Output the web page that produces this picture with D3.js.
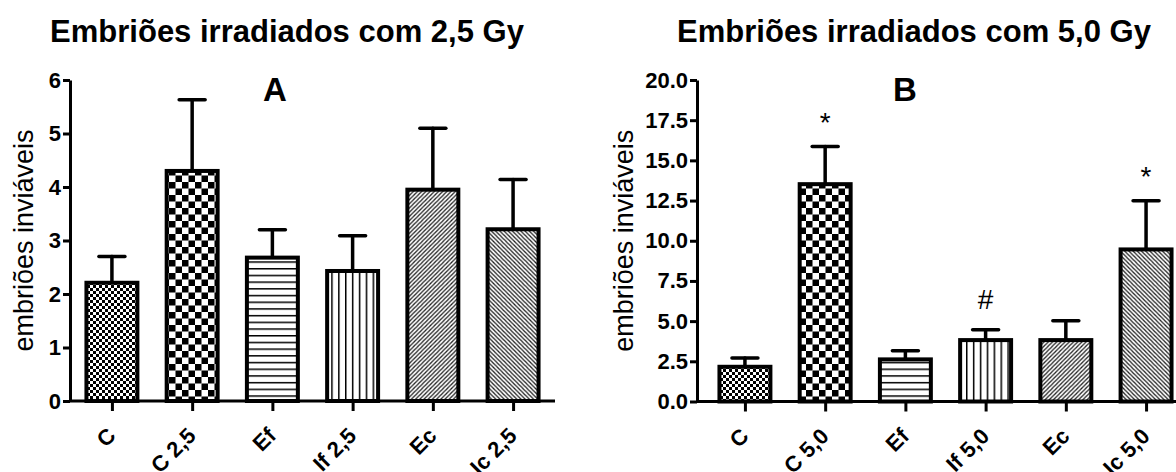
<!DOCTYPE html>
<html>
<head>
<meta charset="utf-8">
<script src="https://cdn.jsdelivr.net/npm/d3@7"></script>
<style>
  body { margin: 0; background: #fff; }
  svg { display: block; font-family: "Liberation Sans", Arial, sans-serif; }
</style>
</head>
<body>
<svg id="chart"></svg>
<script>
// panel A: 2,5 Gy
const catsA = ["C", "C 2,5", "Ef", "If 2,5", "Ec", "Ic 2,5"];
const meansA = [2.21, 4.30, 2.68, 2.43, 3.95, 3.21];
const errsA = [0.49, 1.33, 0.52, 0.66, 1.15, 0.93];
const marksA = ["", "", "", "", "", ""];
const yTicksA = [0, 1, 2, 3, 4, 5, 6];

// panel B: 5,0 Gy
const catsB = ["C", "C 5,0", "Ef", "If 5,0", "Ec", "Ic 5,0"];
const meansB = [2.16, 13.52, 2.62, 3.82, 3.82, 9.46];
const errsB = [0.54, 2.34, 0.54, 0.64, 1.20, 3.03];
const marksB = ["", "*", "", "#", "", "*"];
const yTicksB = [0, 2.5, 5, 7.5, 10, 12.5, 15, 17.5, 20];

const fills = ["fineCheck", "bigCheck", "hLines", "vLines", "diagUp", "diagDown"];

const width = 1176, height = 472;
const svg = d3.select("#chart")
    .attr("width", width)
    .attr("height", height)
    .attr("viewBox", [0, 0, width, height]);

// hatch patterns
const defs = svg.append("defs");
function pattern(id, w, h) {
  const p = defs.append("pattern")
      .attr("id", id)
      .attr("patternUnits", "userSpaceOnUse")
      .attr("width", w).attr("height", h);
  p.append("rect").attr("width", w).attr("height", h).attr("fill", "#fff");
  return p;
}
let p = pattern("fineCheck", 6, 6);
p.append("rect").attr("width", 3).attr("height", 3).attr("fill", "#000");
p.append("rect").attr("x", 3).attr("y", 3).attr("width", 3).attr("height", 3).attr("fill", "#000");
p = pattern("bigCheck", 13, 13);
p.append("rect").attr("width", 6.5).attr("height", 6.5).attr("fill", "#000");
p.append("rect").attr("x", 6.5).attr("y", 6.5).attr("width", 6.5).attr("height", 6.5).attr("fill", "#000");
p = pattern("hLines", 10, 6.7);
p.append("rect").attr("width", 10).attr("height", 1.5).attr("fill", "#000");
p = pattern("vLines", 6.9, 10);
p.append("rect").attr("width", 1.5).attr("height", 10).attr("fill", "#000");
p = pattern("diagUp", 4.2, 4.2);
p.append("path").attr("d", "M0,4.2L4.2,0M-1,1L1,-1M3.2,5.2L5.2,3.2")
    .attr("stroke", "#222").attr("stroke-width", 1.3);
p = pattern("diagDown", 4.2, 4.2);
p.append("path").attr("d", "M0,0L4.2,4.2M-1,3.2L1,5.2M3.2,-1L5.2,1")
    .attr("stroke", "#222").attr("stroke-width", 1.3);

function panel({cats, means, errs, marks, yTicks, yFormat, x0, x1, padOuter, yBot, yTop,
                title, titleX, letter, letterX, labelX}) {
  const g = svg.append("g");
  const n = cats.length;
  const x = d3.scaleBand().domain(d3.range(n)).range([x0, x1])
      .paddingInner(0.315).paddingOuter(padOuter);
  const y = d3.scaleLinear().domain([0, d3.max(yTicks)]).range([yBot, yTop]);
  const bw = x.bandwidth();
  const sw = 4;

  // error bars (drawn under the bars)
  const eb = g.append("g")
      .attr("stroke", "#000")
      .attr("stroke-width", 3.5)
      .attr("stroke-linecap", "round");
  eb.selectAll("line.v").data(d3.range(n)).join("line")
      .attr("class", "v")
      .attr("x1", i => x(i) + bw / 2).attr("x2", i => x(i) + bw / 2)
      .attr("y1", i => y(means[i])).attr("y2", i => y(means[i] + errs[i]));
  eb.selectAll("line.cap").data(d3.range(n)).join("line")
      .attr("class", "cap")
      .attr("x1", i => x(i) + bw / 2 - 13).attr("x2", i => x(i) + bw / 2 + 13)
      .attr("y1", i => y(means[i] + errs[i])).attr("y2", i => y(means[i] + errs[i]));

  // bars
  g.append("g")
      .attr("stroke", "#000")
      .attr("stroke-width", sw)
    .selectAll("rect").data(d3.range(n)).join("rect")
      .attr("x", i => x(i) + sw / 2)
      .attr("width", bw - sw)
      .attr("y", i => y(means[i]))
      .attr("height", i => y(0) - y(means[i]))
      .attr("fill", i => `url(#${fills[i]})`);

  // significance marks
  g.append("g")
      .attr("font-size", 28)
      .attr("text-anchor", "middle")
      .attr("fill", "#000")
    .selectAll("text").data(d3.range(n).filter(i => marks[i])).join("text")
      .attr("x", i => x(i) + bw / 2)
      .attr("y", i => y(means[i] + errs[i]) - (marks[i] === "#" ? 21 : 15))
      .text(i => marks[i]);

  // y axis
  g.append("g")
      .attr("transform", `translate(${x0},0)`)
      .call(d3.axisLeft(y).tickValues(yTicks).tickFormat(yFormat).tickSize(7).tickPadding(2).tickSizeOuter(0))
      .call(a => a.selectAll("path, line").attr("stroke", "#000").attr("stroke-width", 3))
      .call(a => a.selectAll("text").attr("font-size", 22).attr("font-weight", "bold").attr("fill", "#000"));

  // x axis
  g.append("g")
      .attr("transform", `translate(0,${yBot})`)
      .call(d3.axisBottom(d3.scaleOrdinal().domain(d3.range(n)).range(d3.range(n).map(i => x(i) + bw / 2)))
          .tickSize(10).tickFormat(""))
      .call(a => a.select(".domain").remove())
      .call(a => a.selectAll("line").attr("stroke", "#000").attr("stroke-width", 3))
      .call(a => a.append("line")
          .attr("x1", x0).attr("x2", x1)
          .attr("stroke", "#000").attr("stroke-width", 3));

  g.append("g")
      .attr("font-size", 22)
      .attr("font-weight", "bold")
      .attr("text-anchor", "end")
    .selectAll("text").data(d3.range(n)).join("text")
      .attr("transform", i => `translate(${x(i) + bw / 2 + 5},${yBot + 36}) rotate(-45)`)
      .text(i => cats[i]);

  // y label
  g.append("text")
      .attr("transform", `translate(${labelX},${(yTop + yBot) / 2}) rotate(-90)`)
      .attr("text-anchor", "middle")
      .attr("font-size", 27)
      .text("embriões inviáveis");

  // title and panel letter
  g.append("text")
      .attr("x", titleX).attr("y", 42)
      .attr("text-anchor", "middle")
      .attr("font-size", 31)
      .attr("font-weight", "bold")
      .text(title);
  g.append("text")
      .attr("x", letterX).attr("y", 101)
      .attr("text-anchor", "middle")
      .attr("font-size", 33)
      .attr("font-weight", "bold")
      .text(letter);
}

panel({
  cats: catsA, means: meansA, errs: errsA, marks: marksA,
  yTicks: yTicksA, yFormat: d3.format("d"),
  x0: 70, x1: 555, padOuter: 0.18, yBot: 401, yTop: 80,
  title: "Embriões irradiados com 2,5 Gy", titleX: 287,
  letter: "A", letterX: 275, labelX: 33
});

panel({
  cats: catsB, means: meansB, errs: errsB, marks: marksB,
  yTicks: yTicksB, yFormat: d3.format(".1f"),
  x0: 697, x1: 1194, padOuter: 0.255, yBot: 401.5, yTop: 80,
  title: "Embriões irradiados com 5,0 Gy", titleX: 914,
  letter: "B", letterX: 905, labelX: 633
});
</script>
</body>
</html>
